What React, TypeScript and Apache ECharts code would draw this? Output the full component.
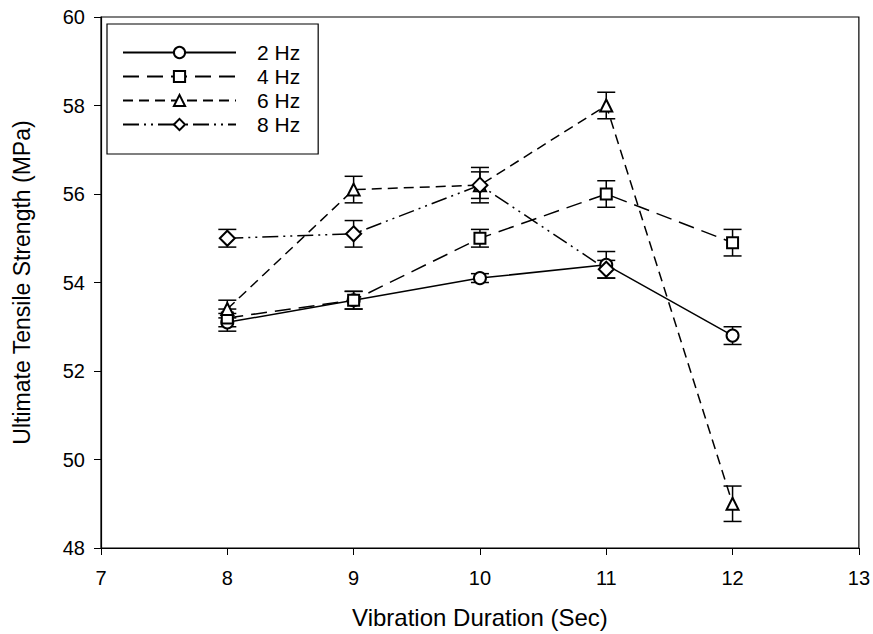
import React, { useEffect, useRef } from "react";
import * as echarts from "echarts";

const durations = [8, 9, 10, 11, 12];
const hz2 = [53.1, 53.6, 54.1, 54.4, 52.8];
const hz2Err = [0.2, 0.2, 0.1, 0.3, 0.2];
const hz4 = [53.2, 53.6, 55.0, 56.0, 54.9];
const hz4Err = [0.2, 0.2, 0.2, 0.3, 0.3];
const hz6 = [53.4, 56.1, 56.2, 58.0, 49.0];
const hz6Err = [0.2, 0.3, 0.4, 0.3, 0.4];
const durations8 = [8, 9, 10, 11];
const hz8 = [55.0, 55.1, 56.2, 54.3];
const hz8Err = [0.2, 0.3, 0.3, 0.2];

const FONT = "Liberation Sans, Arial, sans-serif";

function errData(xs: number[], ys: number[], es: number[]) {
  return xs.map((x, i) => [x, ys[i] - es[i], ys[i] + es[i]]);
}

function errSeries(data: number[][]) {
  return {
    type: "custom",
    z: 1,
    silent: true,
    renderItem: (_params: any, api: any) => {
      const x = api.value(0);
      const lo = api.coord([x, api.value(1)]);
      const hi = api.coord([x, api.value(2)]);
      const hw = 9;
      const style = { stroke: "#000", lineWidth: 1.5 };
      return {
        type: "group",
        children: [
          { type: "line", shape: { x1: lo[0], y1: lo[1], x2: hi[0], y2: hi[1] }, style },
          { type: "line", shape: { x1: lo[0] - hw, y1: lo[1], x2: lo[0] + hw, y2: lo[1] }, style },
          { type: "line", shape: { x1: hi[0] - hw, y1: hi[1], x2: hi[0] + hw, y2: hi[1] }, style },
        ],
      };
    },
    data,
  };
}

function lineSeries(name: string, xs: number[], ys: number[], symbol: string, size: number, dash: any) {
  return {
    name,
    type: "line",
    z: 3,
    data: xs.map((x, i) => [x, ys[i]]),
    symbol,
    symbolSize: size,
    color: "#000",
    lineStyle: { color: "#000", width: 1.5, type: dash },
    itemStyle: { color: "#000", borderWidth: 1.3 },
  };
}

export default function App() {
  const ref = useRef<HTMLDivElement>(null);
  useEffect(() => {
    if (!ref.current) return;
    const chart = echarts.init(ref.current, null, { renderer: "svg" });
    chart.setOption({
      animation: false,
      backgroundColor: "#fff",
      grid: {
        left: 101,
        right: 12,
        top: 17,
        bottom: 85,
        show: true,
        borderColor: "#000",
        borderWidth: 1.2,
      },
      legend: {
        orient: "vertical",
        left: 107,
        top: 24,
        itemWidth: 113,
        itemHeight: 14,
        itemGap: 3,
        padding: [18, 18, 19, 15],
        borderColor: "#000",
        borderWidth: 1.2,
        data: ["2 Hz", "4 Hz", "6 Hz", "8 Hz"],
        textStyle: { fontFamily: FONT, fontSize: 21, color: "#000", padding: [0, 0, 0, 16] },
      },
      xAxis: {
        type: "value",
        min: 7,
        max: 13,
        interval: 1,
        name: "Vibration Duration (Sec)",
        nameLocation: "middle",
        nameGap: 57,
        nameTextStyle: { fontFamily: FONT, fontSize: 24, color: "#000" },
        axisLine: { show: true, lineStyle: { color: "#000", width: 1.2 } },
        axisTick: { show: true, inside: false, length: 7, lineStyle: { color: "#000" } },
        axisLabel: { fontFamily: FONT, fontSize: 20, color: "#000", margin: 20 },
        splitLine: { show: false },
      },
      yAxis: {
        type: "value",
        min: 48,
        max: 60,
        interval: 2,
        name: "Ultimate Tensile Strength (MPa)",
        nameLocation: "middle",
        nameGap: 68,
        nameTextStyle: { fontFamily: FONT, fontSize: 23, color: "#000" },
        axisLine: { show: true, lineStyle: { color: "#000", width: 1.2 } },
        axisTick: { show: true, inside: false, length: 7, lineStyle: { color: "#000" } },
        axisLabel: { fontFamily: FONT, fontSize: 20, color: "#000", margin: 16 },
        splitLine: { show: false },
      },
      series: [
        errSeries(errData(durations, hz2, hz2Err)),
        errSeries(errData(durations, hz4, hz4Err)),
        errSeries(errData(durations, hz6, hz6Err)),
        errSeries(errData(durations8, hz8, hz8Err)),
        lineSeries("2 Hz", durations, hz2, "emptyCircle", 12, "solid"),
        lineSeries("4 Hz", durations, hz4, "emptyRect", 11, [16, 8]),
        lineSeries("6 Hz", durations, hz6, "emptyTriangle", 12, [10, 6]),
        lineSeries("8 Hz", durations8, hz8, "emptyDiamond", 15, [16, 5, 2, 5, 2, 5]),
      ],
    });
    return () => chart.dispose();
  }, []);
  return (
    <div
      ref={ref}
      style={{ position: "absolute", left: 0, top: 0, width: 873, height: 634 }}
    />
  );
}
